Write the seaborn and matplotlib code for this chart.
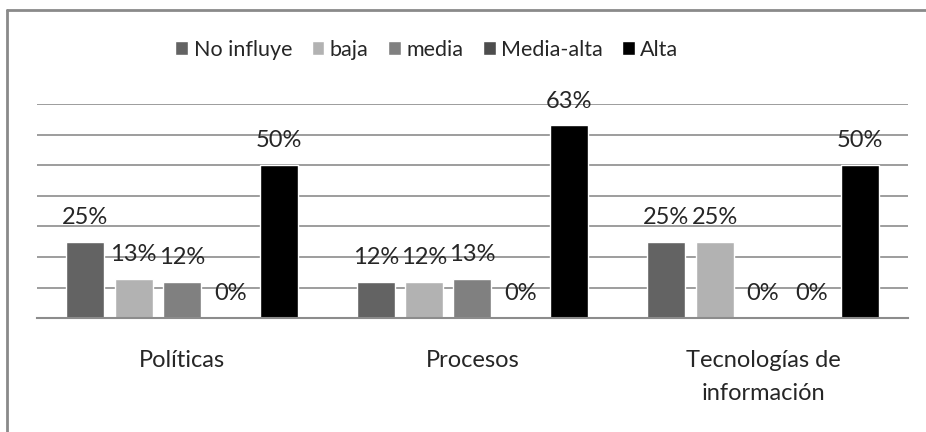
import matplotlib
matplotlib.use("Agg")
import matplotlib.pyplot as plt
from matplotlib.lines import Line2D
import seaborn as sns
import pandas as pd

# Data
categorias = ["Políticas", "Procesos", "Tecnologías de\ninformación"]
niveles = ["No influye", "baja", "media", "Media-alta", "Alta"]
no_influye = [25, 12, 25]
baja = [13, 12, 25]
media = [12, 13, 0]
media_alta = [0, 0, 0]
alta = [50, 63, 50]
colores = ["#636363", "#b2b2b2", "#808080", "#4d4d4d", "#000000"]

series = [no_influye, baja, media, media_alta, alta]
rows = []
for nivel, vals in zip(niveles, series):
    for cat, v in zip(categorias, vals):
        rows.append({"categoria": cat, "nivel": nivel, "valor": v})
df = pd.DataFrame(rows)

sns.set_theme(style="white")
plt.rcParams["font.family"] = ["Lato", "DejaVu Sans"]
text_color = "#262626"
grid_color = "#8c8c8c"

fig = plt.figure(figsize=(9.26, 4.32), dpi=100)
ax = fig.add_axes([0.0396, 0.2632, 0.9413, 0.496])

sns.barplot(data=df, x="categoria", y="valor", hue="nivel",
            order=categorias, hue_order=niveles, palette=colores,
            width=0.833, gap=0.215, saturation=1, ax=ax)

ax.set_ylim(0, 70)
ax.set_xlim(-0.5, 2.5)
ax.set_yticks(range(0, 71, 10))
ax.yaxis.grid(True, color=grid_color, linewidth=1.2)
ax.set_axisbelow(True)
ax.tick_params(axis="y", left=False, labelleft=False)
ax.tick_params(axis="x", bottom=False, pad=17, labelsize=17, labelcolor=text_color)
for lbl in ax.get_xticklabels():
    lbl.set_linespacing(1.7)
ax.set_xlabel("")
ax.set_ylabel("")
for side in ["top", "right", "left"]:
    ax.spines[side].set_visible(False)
ax.spines["bottom"].set_color(grid_color)
ax.spines["bottom"].set_linewidth(1.5)

# value labels above each bar
for container in ax.containers:
    for bar in container:
        h = bar.get_height()
        ax.annotate(f"{h:.0f}%", (bar.get_x() + bar.get_width() / 2, h),
                    xytext=(0, 17.5), textcoords="offset points",
                    ha="center", va="center", fontsize=17, color=text_color)

handles, labels = ax.get_legend_handles_labels()
ax.get_legend().remove()
fig.legend(handles, labels, loc="center", bbox_to_anchor=(0.461, 0.885),
           ncol=5, frameon=False, fontsize=15.5, labelcolor=text_color,
           handlelength=0.6, handleheight=0.6, handletextpad=0.25,
           columnspacing=0.9)

# chart-area border
fig.add_artist(Line2D([7 / 926, 1], [1 - 10 / 432, 1 - 10 / 432],
                      transform=fig.transFigure, color="#8a8a8a", linewidth=2))
fig.add_artist(Line2D([7 / 926, 7 / 926], [0, 1 - 10 / 432],
                      transform=fig.transFigure, color="#8a8a8a", linewidth=2))

fig.savefig("out.png", dpi=100, facecolor="white")
